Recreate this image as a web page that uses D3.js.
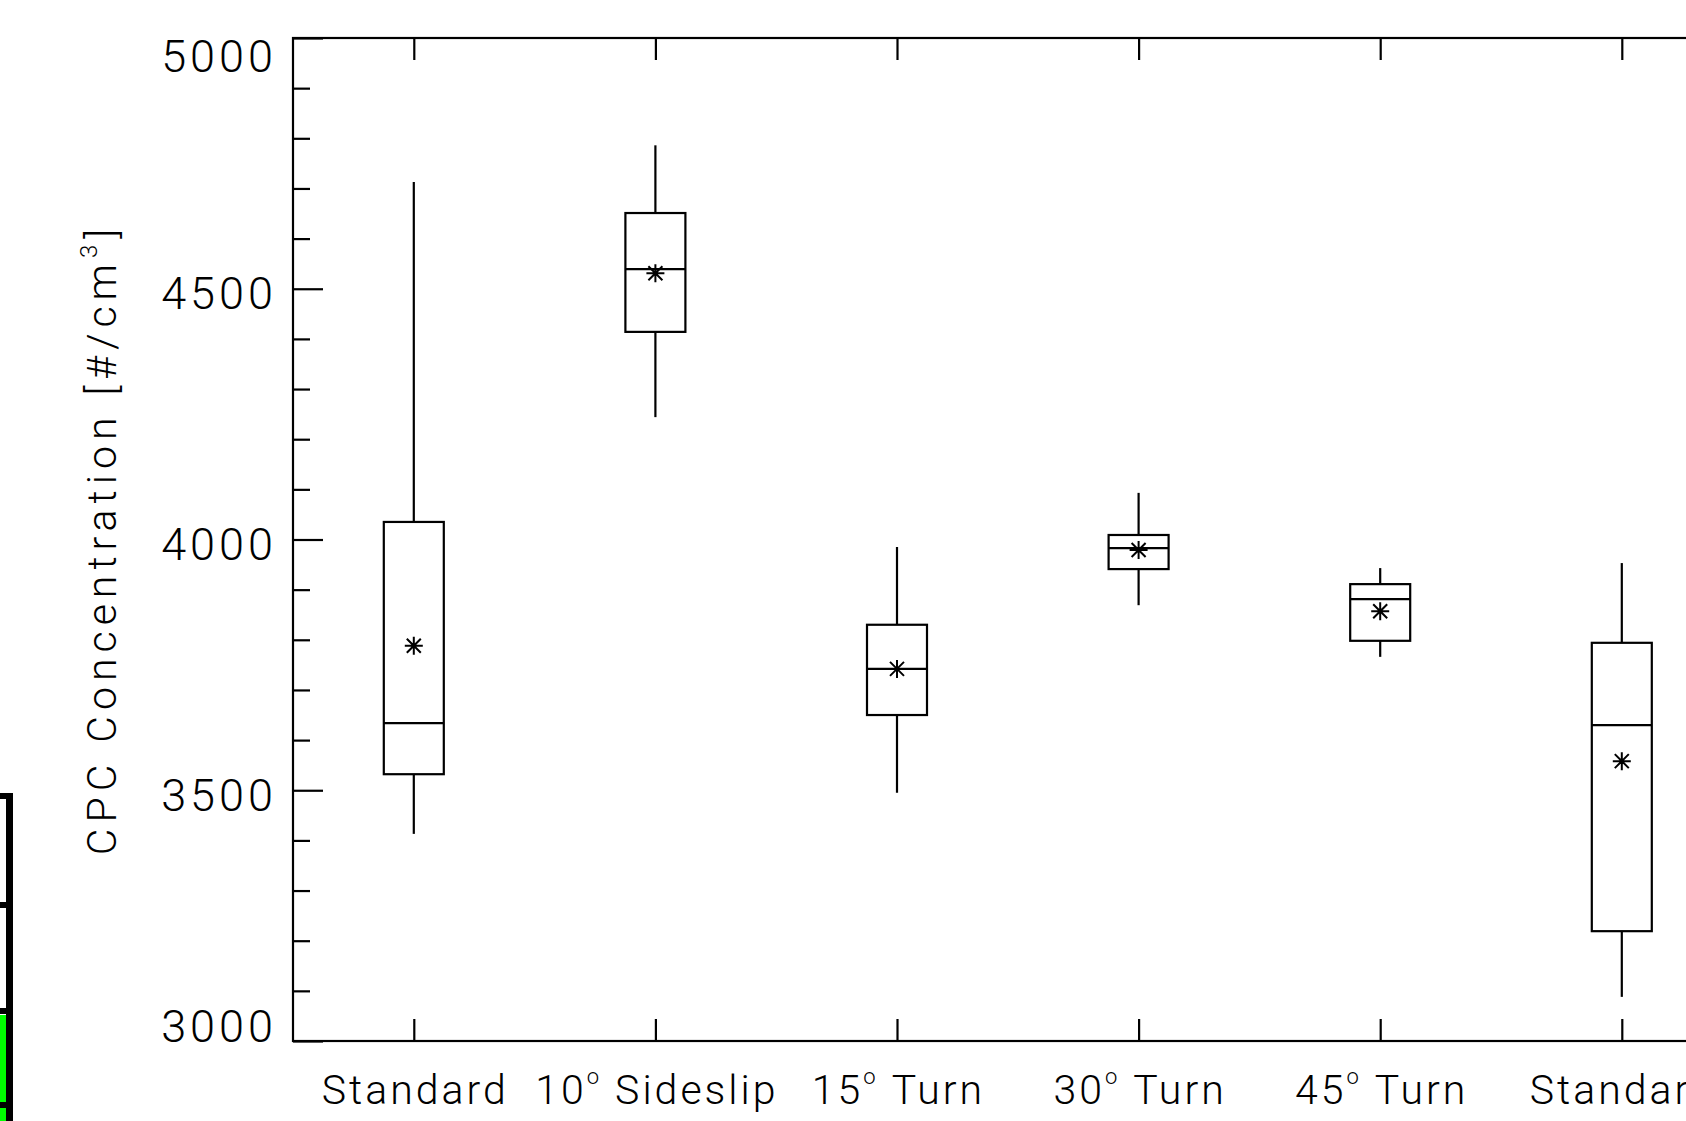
<!DOCTYPE html>
<html>
<head>
<meta charset="utf-8">
<script src="https://cdn.jsdelivr.net/npm/d3@7"></script>
<style>
  html, body { margin: 0; padding: 0; background: #fff; overflow: hidden; }
  svg { display: block; }
  text { font-family: Roboto, "DejaVu Sans", sans-serif; font-weight: 300; fill: #000; }
</style>
</head>
<body>
<svg id="chart" width="1686" height="1121"></svg>
<script>
// ---- data ----
const categories = ["Standard", "10°Sideslip", "15°Turn", "30°Turn", "45°Turn", "Standard"];
const whiskerHigh = [4713, 4786, 3985, 4093, 3943, 3953];
const q3Values    = [4035, 4651, 3830, 4009, 3911, 3794];
const medians     = [3634, 4539, 3742, 3983, 3881, 3630];
const q1Values    = [3532, 4414, 3650, 3941, 3798, 3219];
const whiskerLow  = [3413, 4244, 3495, 3869, 3766, 3088];
const means       = [3788, 4531, 3742, 3979, 3857, 3558];
const yMajorTicks = [3000, 3500, 4000, 4500, 5000];
const yMinorTicks = [3100, 3200, 3300, 3400, 3600, 3700, 3800, 3900, 4100, 4200, 4300, 4400, 4600, 4700, 4800, 4900];
const yTitle = "CPC Concentration [#/cm";
const yTitleSup = "3";

(function () {
// ---- layout ----
const svg = d3.select("#chart");
const mLeft = 293, mTop = 38, mBottom = 1041;
const spacing = 241.6;
const mRight = mLeft + spacing * categories.length;

const y = d3.scaleLinear().domain([3000, 5000]).range([mBottom, mTop]);
const x = d3.scaleLinear().domain([0.5, categories.length + 0.5]).range([mLeft, mRight]);
const idx = categories.map((_, i) => i + 1);
const boxW = 60;
const lw = 2.2;

// left strip (partially visible neighbouring table)
const strip = svg.append("g");
strip.append("rect").attr("x", 0).attr("y", 1015).attr("width", 6).attr("height", 106).attr("fill", "#00ff00");
strip.append("rect").attr("x", 6).attr("y", 793).attr("width", 7).attr("height", 328).attr("fill", "#000");
[793, 902, 1008, 1102].forEach(v => {
  strip.append("rect").attr("x", 0).attr("y", v).attr("width", 13).attr("height", 6).attr("fill", "#000");
});

// frame
svg.append("rect").attr("x", mLeft).attr("y", mTop).attr("width", mRight - mLeft).attr("height", mBottom - mTop)
  .attr("fill", "none").attr("stroke", "#000").attr("stroke-width", lw);

// y ticks (inward)
const yAxisMajor = d3.axisRight(y).tickValues(yMajorTicks).tickSize(30).tickSizeOuter(0).tickFormat("");
const yAxisMinor = d3.axisRight(y).tickValues(yMinorTicks).tickSize(17).tickSizeOuter(0).tickFormat("");
[yAxisMajor, yAxisMinor].forEach(ax => {
  const g = svg.append("g").attr("transform", `translate(${mLeft},0)`).call(ax);
  g.select(".domain").remove();
  g.selectAll("line").attr("stroke", "#000").attr("stroke-width", lw);
});

// y tick labels
svg.append("g").selectAll("text").data(yMajorTicks).join("text")
  .attr("x", 277)
  .attr("y", d => y(d) + (d === 5000 ? 18 : d === 3000 ? -15 : 5))
  .attr("text-anchor", "end")
  .attr("dominant-baseline", "central")
  .attr("font-size", 45)
  .attr("letter-spacing", 4)
  .text(d => d);

// x ticks (bottom and top, inward)
const gxb = svg.append("g").attr("transform", `translate(0,${mBottom})`)
  .call(d3.axisTop(x).tickValues(idx).tickSize(22).tickSizeOuter(0).tickFormat(""));
const gxt = svg.append("g").attr("transform", `translate(0,${mTop})`)
  .call(d3.axisBottom(x).tickValues(idx).tickSize(22).tickSizeOuter(0).tickFormat(""));
[gxb, gxt].forEach(g => {
  g.select(".domain").remove();
  g.selectAll("line").attr("stroke", "#000").attr("stroke-width", lw);
});

// x labels
const xl = svg.append("g").selectAll("text").data(categories).join("text")
  .attr("x", (d, i) => x(i + 1) + 1.5)
  .attr("y", 1104)
  .attr("text-anchor", "middle")
  .attr("font-size", 41)
  .attr("letter-spacing", 3);
xl.each(function(d) {
  const t = d3.select(this);
  const parts = d.split("°");
  if (parts.length === 1) { t.text(d); return; }
  t.append("tspan").text(parts[0]);
  t.append("tspan").attr("font-size", 22).attr("dy", -20).text("o");
  t.append("tspan").attr("dy", 20).text("\u00a0" + parts[1]);
});

// y title
const yt = svg.append("text")
  .attr("transform", "translate(116,539) rotate(-90)")
  .attr("text-anchor", "middle")
  .attr("font-size", 41)
  .attr("letter-spacing", 6);
yt.append("tspan").text(yTitle);
yt.append("tspan").attr("font-size", 24).attr("dy", -19).text(yTitleSup);
yt.append("tspan").attr("dy", 19).text("]");

// boxes
const boxes = svg.append("g").attr("stroke", "#000").attr("stroke-width", lw).attr("fill", "none");
idx.forEach((c, i) => {
  const cx = x(c);
  const g = boxes.append("g");
  g.append("line").attr("x1", cx).attr("x2", cx).attr("y1", y(whiskerHigh[i])).attr("y2", y(q3Values[i]));
  g.append("line").attr("x1", cx).attr("x2", cx).attr("y1", y(q1Values[i])).attr("y2", y(whiskerLow[i]));
  g.append("rect").attr("x", cx - boxW / 2).attr("width", boxW)
    .attr("y", y(q3Values[i])).attr("height", y(q1Values[i]) - y(q3Values[i]));
  g.append("line").attr("x1", cx - boxW / 2).attr("x2", cx + boxW / 2)
    .attr("y1", y(medians[i])).attr("y2", y(medians[i]));
  // asterisk for mean
  const my = y(means[i]);
  const r = 9, rd = 7;
  const p = d3.path();
  p.moveTo(cx - r, my); p.lineTo(cx + r, my);
  p.moveTo(cx, my - r); p.lineTo(cx, my + r);
  p.moveTo(cx - rd, my - rd); p.lineTo(cx + rd, my + rd);
  p.moveTo(cx - rd, my + rd); p.lineTo(cx + rd, my - rd);
  g.append("path").attr("d", p.toString()).attr("stroke-width", 2);
});
})();
</script>
</body>
</html>
